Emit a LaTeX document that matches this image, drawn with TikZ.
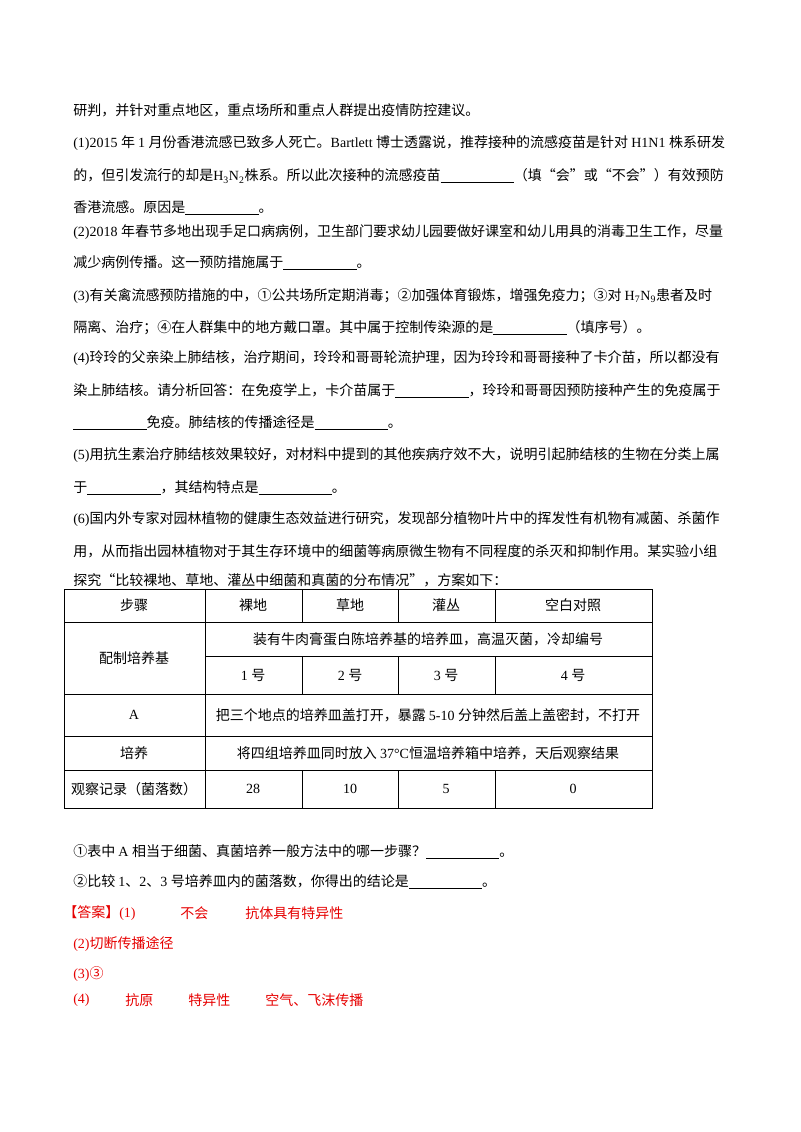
\documentclass[tikz,border=0pt]{standalone}
\usepackage{fontspec}
\setmainfont{Liberation Serif}
\newfontfamily\cjk{Noto Sans CJK SC}
\newfontfamily\latf{Liberation Serif}
% switch fonts between Chinese and Latin runs
\XeTeXinterchartokenstate=1
\newXeTeXintercharclass\CJKcls
\count255="3000
\loop \XeTeXcharclass\count255=\CJKcls \ifnum\count255<"9FFF \advance\count255 1 \repeat
\count255="FF00
\loop \XeTeXcharclass\count255=\CJKcls \ifnum\count255<"FFEF \advance\count255 1 \repeat
\count255="2460
\loop \XeTeXcharclass\count255=\CJKcls \ifnum\count255<"2473 \advance\count255 1 \repeat
\XeTeXcharclass"201C=\CJKcls
\XeTeXcharclass"201D=\CJKcls
\XeTeXinterchartoks 0 \CJKcls = {\cjk}
\XeTeXinterchartoks 4095 \CJKcls = {\cjk}
\XeTeXinterchartoks \CJKcls 0 = {\latf}
\XeTeXinterchartoks 4095 0 = {\latf}
\newcommand{\blank}{\rule[-1.5pt]{55pt}{0.5pt}}
\definecolor{ansred}{RGB}{230,0,0}
\begin{document}
\begin{tikzpicture}[x=0.75pt,y=-0.75pt,
	txtline/.style={anchor=west, inner sep=0pt, font=\fontsize{10.5pt}{12pt}\selectfont},
	anstxt/.style={txtline, text=ansred},
	cell/.style={inner sep=0pt, font=\fontsize{10.5pt}{12pt}\selectfont}
	]
	\useasboundingbox (0,0) rectangle (800,1132);
	
	% question text
	\node (l1)[txtline] at (73,110) {研判，并针对重点地区，重点场所和重点人群提出疫情防控建议。};
	\node (l2)[txtline] at (73,143) {(1)2015 年 1 月份香港流感已致多人死亡。Bartlett 博士透露说，推荐接种的流感疫苗是针对 H1N1 株系研发};
	\node (l3)[txtline] at (73,176) {的，但引发流行的却是H\textsubscript{3}N\textsubscript{2}株系。所以此次接种的流感疫苗\blank（填“会”或“不会”）有效预防};
	\node (l4)[txtline] at (73,208) {香港流感。原因是\blank。};
	\node (l5)[txtline] at (73,232) {(2)2018 年春节多地出现手足口病病例，卫生部门要求幼儿园要做好课室和幼儿用具的消毒卫生工作，尽量};
	\node (l6)[txtline] at (73,263) {减少病例传播。这一预防措施属于\blank。};
	\node (l7)[txtline] at (73,296) {(3)有关禽流感预防措施的中，①公共场所定期消毒；②加强体育锻炼，增强免疫力；③对 H\textsubscript{7}N\textsubscript{9}患者及时};
	\node (l8)[txtline] at (73,328) {隔离、治疗；④在人群集中的地方戴口罩。其中属于控制传染源的是\blank（填序号）。};
	\node (l9)[txtline] at (73,358) {(4)玲玲的父亲染上肺结核，治疗期间，玲玲和哥哥轮流护理，因为玲玲和哥哥接种了卡介苗，所以都没有};
	\node (l10)[txtline] at (73,391) {染上肺结核。请分析回答：在免疫学上，卡介苗属于\blank，玲玲和哥哥因预防接种产生的免疫属于};
	\node (l11)[txtline] at (73,423) {\blank 免疫。肺结核的传播途径是\blank。};
	\node (l12)[txtline] at (73,455) {(5)用抗生素治疗肺结核效果较好，对材料中提到的其他疾病疗效不大，说明引起肺结核的生物在分类上属};
	\node (l13)[txtline] at (73,488) {于\blank，其结构特点是\blank。};
	\node (l14)[txtline] at (73,519) {(6)国内外专家对园林植物的健康生态效益进行研究，发现部分植物叶片中的挥发性有机物有减菌、杀菌作};
	\node (l15)[txtline] at (73,551) {用，从而指出园林植物对于其生存环境中的细菌等病原微生物有不同程度的杀灭和抑制作用。某实验小组};
	\node (l16)[txtline] at (73,580) {探究“比较裸地、草地、灌丛中细菌和真菌的分布情况”，方案如下：};
	
	% table grid
	\draw[line width=0.6pt] (64,589) rectangle (652,808);
	\foreach \y in {622,694,736,770} \draw (64,\y) -- (652,\y);
	\draw (205,656) -- (652,656);
	\foreach \x in {302,398,495} {
		\draw (\x,589) -- (\x,622);
		\draw (\x,656) -- (\x,694);
		\draw (\x,770) -- (\x,808);
	}
	\draw (205,589) -- (205,808);
	
	% table cells
	\node (h0)[cell] at (134,605) {步骤};
	\node (h1)[cell] at (253,605) {裸地};
	\node (h2)[cell] at (350,605) {草地};
	\node (h3)[cell] at (446,605) {灌丛};
	\node (h4)[cell] at (573,605) {空白对照};
	\node (r1)[cell] at (134,658) {配制培养基};
	\node (r1a)[cell] at (428,639) {装有牛肉膏蛋白陈培养基的培养皿，高温灭菌，冷却编号};
	\node (n1)[cell] at (253,675) {1 号};
	\node (n2)[cell] at (350,675) {2 号};
	\node (n3)[cell] at (446,675) {3 号};
	\node (n4)[cell] at (573,675) {4 号};
	\node (r2)[cell] at (134,715) {A};
	\node (r2a)[cell] at (428,715) {把三个地点的培养皿盖打开，暴露 5-10 分钟然后盖上盖密封，不打开};
	\node (r3)[cell] at (134,753) {培养};
	\node (r3a)[cell] at (428,753) {将四组培养皿同时放入 37°C恒温培养箱中培养，天后观察结果};
	\node (r4)[cell] at (134,789) {观察记录（菌落数）};
	\node (c1)[cell] at (253,789) {28};
	\node (c2)[cell] at (350,789) {10};
	\node (c3)[cell] at (446,789) {5};
	\node (c4)[cell] at (573,789) {0};
	
	% sub-questions
	\node (q1)[txtline] at (73,852) {①表中 A 相当于细菌、真菌培养一般方法中的哪一步骤？\blank。};
	\node (q2)[txtline] at (73,882) {②比较 1、2、3 号培养皿内的菌落数，你得出的结论是\blank。};
	
	% answers
	\node (a1)[anstxt] at (63,913) {【答案】(1)};
	\node (a1b)[anstxt] at (180,913) {不会};
	\node (a1c)[anstxt] at (245,913) {抗体具有特异性};
	\node (a2)[anstxt] at (73,944) {(2)切断传播途径};
	\node (a3)[anstxt] at (73,974) {(3)③};
	\node (a4)[anstxt] at (73,1000) {(4)};
	\node (a4b)[anstxt] at (125,1000) {抗原};
	\node (a4c)[anstxt] at (188,1000) {特异性};
	\node (a4d)[anstxt] at (265,1000) {空气、飞沫传播};
\end{tikzpicture}
\end{document}
